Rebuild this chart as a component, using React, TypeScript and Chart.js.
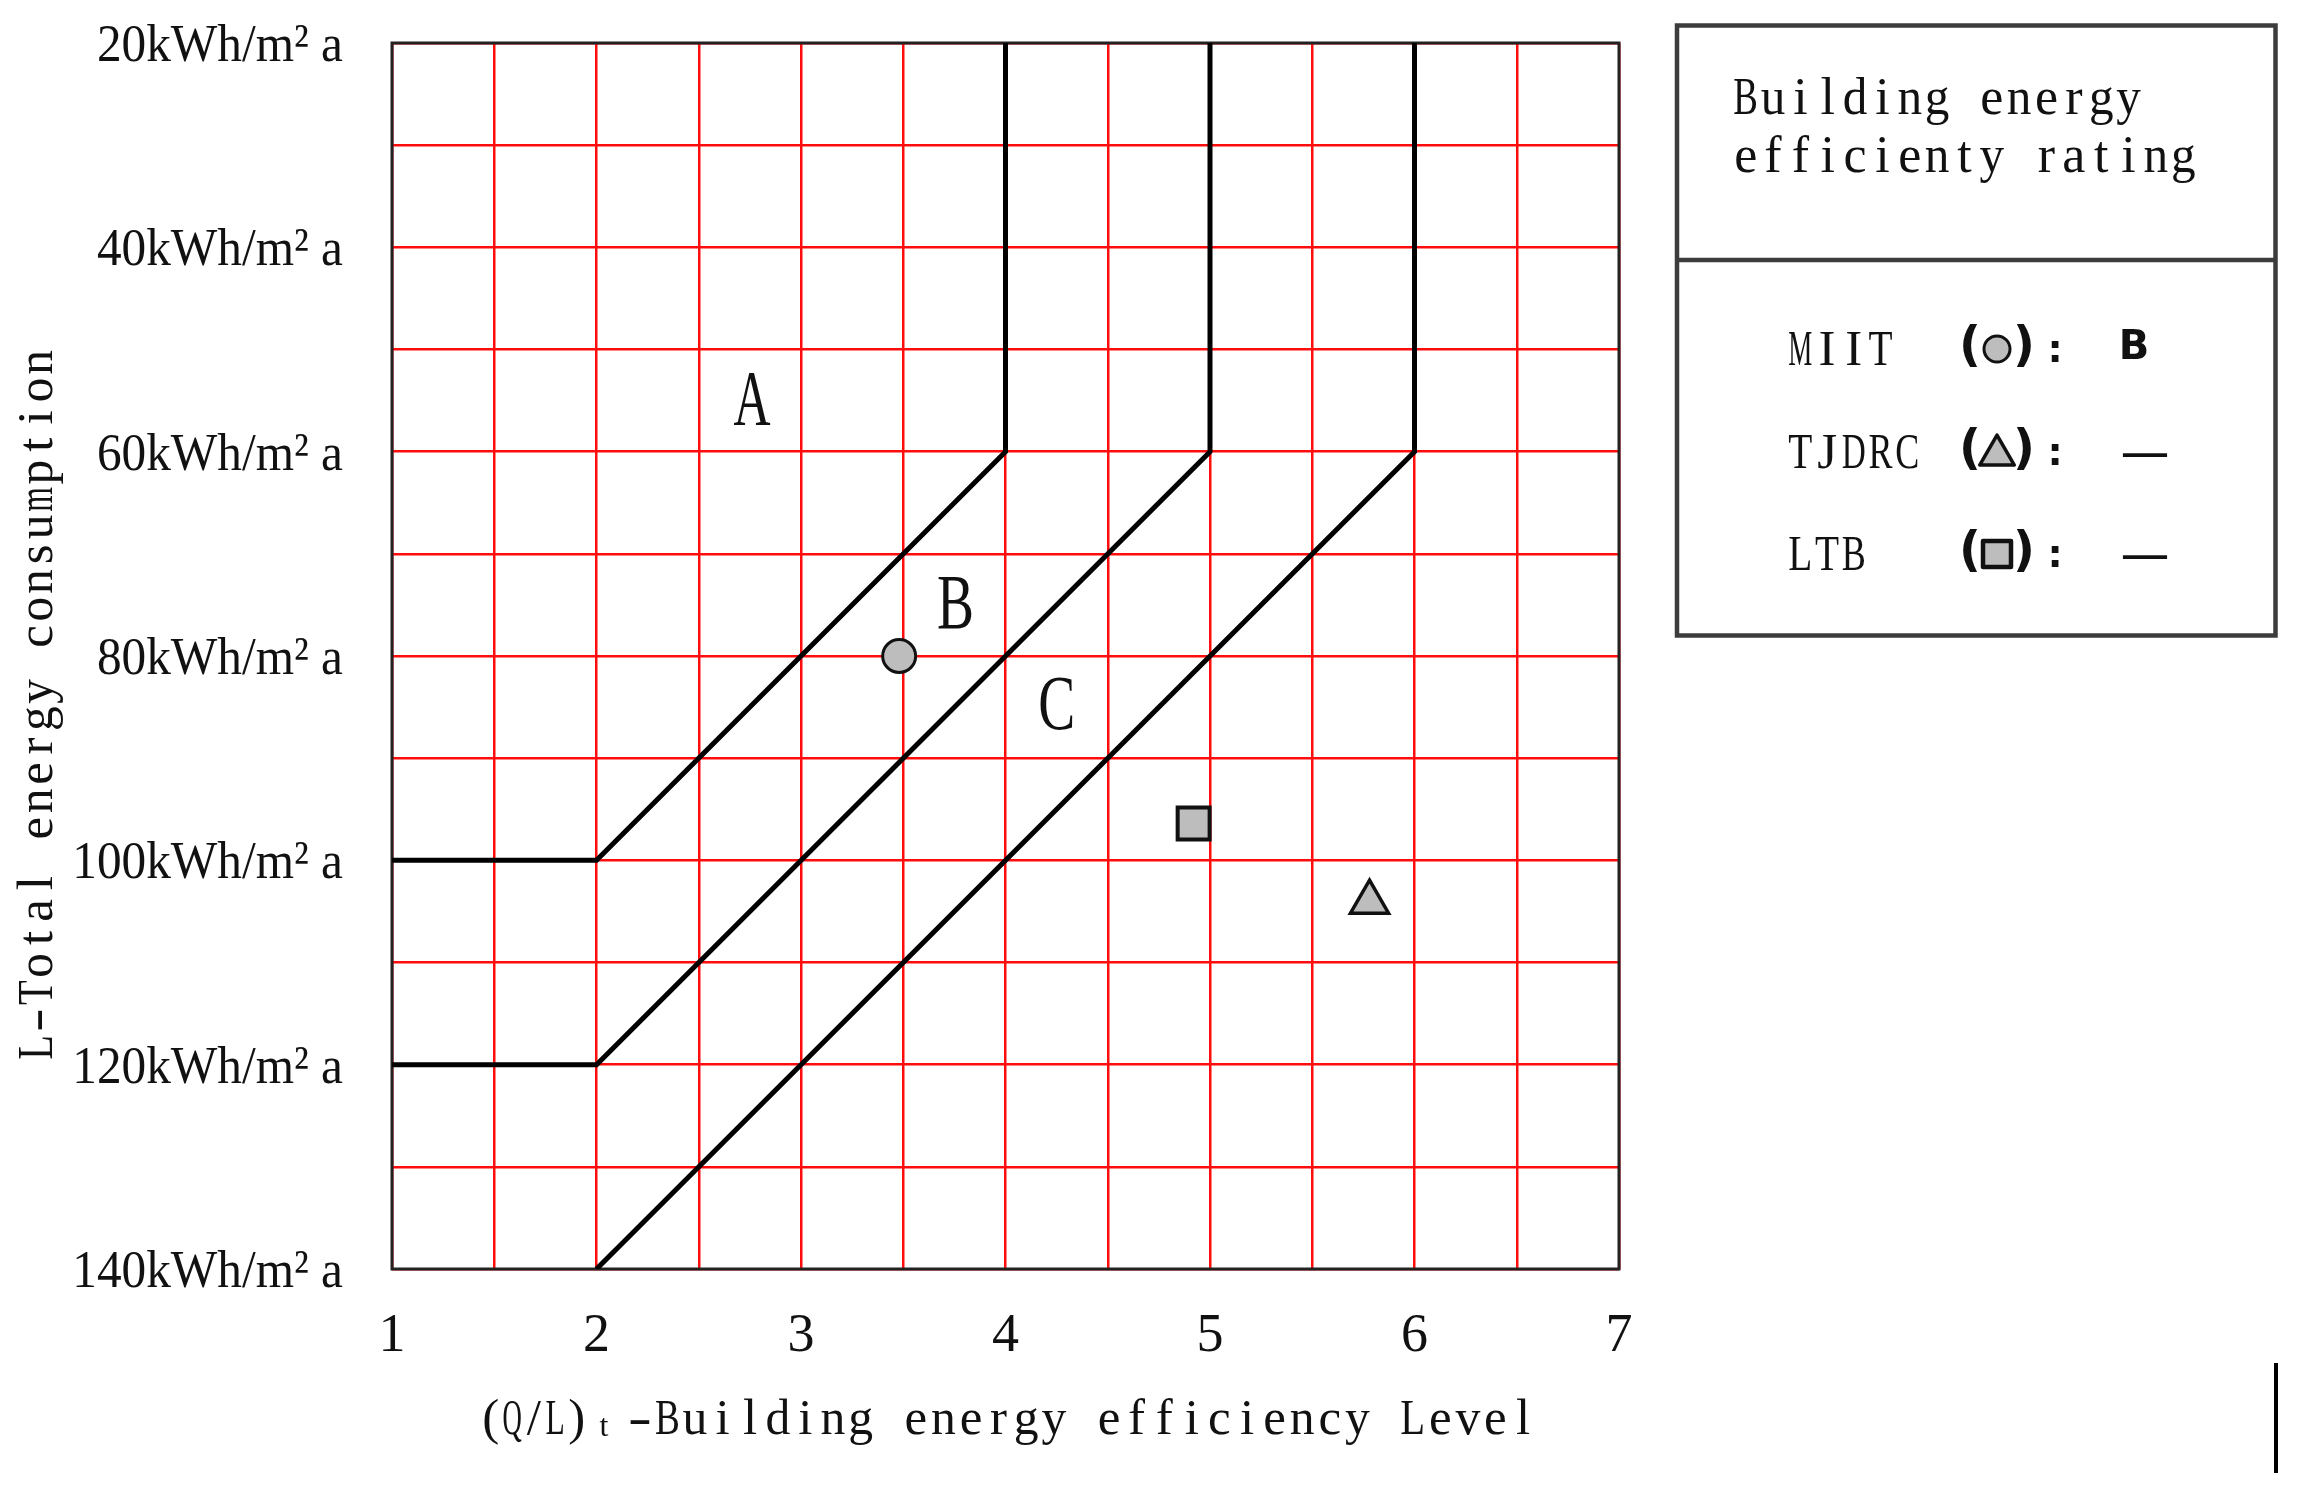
import React, { useEffect, useRef } from 'react';
import { Chart, registerables } from 'chart.js';

Chart.register(...registerables);

// ---- data ----
const xTickValues = [1, 2, 3, 4, 5, 6, 7];
const xTickLabels = ['1', '2', '3', '4', '5', '6', '7'];
const yTickValues = [20, 40, 60, 80, 100, 120, 140];
const yTickLabels = ['20kWh/m² a', '40kWh/m² a', '60kWh/m² a', '80kWh/m² a', '100kWh/m² a', '120kWh/m² a', '140kWh/m² a'];

const boundaryAX = [1, 2, 4, 4];
const boundaryAY = [100, 100, 60, 20];
const boundaryBX = [1, 2, 5, 5];
const boundaryBY = [120, 120, 60, 20];
const boundaryCX = [2, 6, 6];
const boundaryCY = [140, 60, 20];

const miitX = [3.48];
const miitY = [80];
const tjdrcX = [5.78];
const tjdrcY = [104.1];
const ltbX = [4.92];
const ltbY = [96.4];

const zoneLabels = ['A', 'B', 'C'];
const zoneX = [2.76, 3.755, 4.25];
const zoneY = [54.8, 74.8, 84.7];

const xTitleMain = '(Q/L)';
const xTitleSub = 't';
const xTitleRest = '-Building energy efficiency Level';
const yTitle = 'L-Total energy consumption';

const legendTitle = ['Building energy', 'efficienty rating'];
const legendNames = ['MIIT', 'TJDRC', 'LTB'];
const legendStyles = ['circle', 'triangle', 'rect'];
const legendRatings = ['B', '—', '—'];

// ---- helpers ----
const pts = (xs: number[], ys: number[]) => xs.map((x, i) => ({ x, y: ys[i] }));

function monoText(ctx: CanvasRenderingContext2D, text: string, x: number, y: number, adv: number, font: string, align: 'left' | 'right' | 'center', fill = '#111') {
  ctx.save();
  ctx.font = font;
  ctx.fillStyle = fill;
  ctx.textAlign = 'center';
  ctx.textBaseline = 'alphabetic';
  const chars = Array.from(text);
  const total = chars.length * adv;
  const start = align === 'left' ? x : align === 'right' ? x - total : x - total / 2;
  chars.forEach((ch, i) => {
    const cx = start + adv * (i + 0.5);
    const w = ctx.measureText(ch).width;
    let sx = 1;
    const maxW = adv * 0.9;
    if (w > maxW) sx = maxW / w;
    if (ch === '-') sx = 1.4;
    ctx.save();
    ctx.translate(cx, y);
    ctx.scale(sx, 1);
    ctx.fillText(ch, 0, 0);
    ctx.restore();
  });
  ctx.restore();
  return start + total;
}

function drawMarker(ctx: CanvasRenderingContext2D, style: string, x: number, y: number) {
  ctx.save();
  ctx.fillStyle = '#bdbdbd';
  ctx.strokeStyle = '#111';
  ctx.lineJoin = 'round';
  ctx.beginPath();
  if (style === 'circle') {
    ctx.lineWidth = 3;
    ctx.arc(x, y, 13, 0, Math.PI * 2);
  } else if (style === 'triangle') {
    ctx.lineWidth = 3.5;
    const r = 20;
    for (let k = 0; k < 3; k++) {
      const a = (k * 2 * Math.PI) / 3;
      const px = x + Math.sin(a) * r;
      const py = y + 3 - Math.cos(a) * r;
      if (k === 0) ctx.moveTo(px, py); else ctx.lineTo(px, py);
    }
    ctx.closePath();
  } else {
    ctx.lineWidth = 4.5;
    ctx.rect(x - 14, y - 13, 28, 26);
  }
  ctx.fill();
  ctx.stroke();
  ctx.restore();
}

const overlay = {
  id: 'overlay',
  beforeDatasetsDraw(chart: any) {
    const { ctx, chartArea: a } = chart;
    ctx.save();
    ctx.strokeStyle = '#222';
    ctx.lineWidth = 3;
    ctx.strokeRect(a.left, a.top, a.right - a.left, a.bottom - a.top);
    ctx.restore();
  },
  afterDatasetsDraw(chart: any) {
    const { ctx } = chart;
    const xs = chart.scales.x;
    const ys = chart.scales.y;
    zoneLabels.forEach((lab, i) => {
      const px = xs.getPixelForValue(zoneX[i]);
      const py = ys.getPixelForValue(zoneY[i]);
      ctx.save();
      ctx.font = '78px "Liberation Serif"';
      ctx.fillStyle = '#111';
      ctx.textAlign = 'center';
      ctx.textBaseline = 'alphabetic';
      const w = ctx.measureText(lab).width;
      ctx.translate(px, py + 25);
      ctx.scale(Math.min(1, 37 / w), 1);
      ctx.fillText(lab, 0, 0);
      ctx.restore();
    });
  },
  afterDraw(chart: any) {
    const { ctx } = chart;
    const xs = chart.scales.x;
    const ys = chart.scales.y;
    // tick labels
    ctx.save();
    ctx.fillStyle = '#111';
    ctx.font = '53px "Liberation Serif"';
    ctx.textAlign = 'right';
    ctx.textBaseline = 'alphabetic';
    yTickValues.forEach((v, i) => {
      ctx.save();
      ctx.translate(343, ys.getPixelForValue(v) + 18);
      ctx.scale(0.93, 1);
      ctx.fillText(yTickLabels[i], 0, 0);
      ctx.restore();
    });
    ctx.font = '54px "Liberation Serif"';
    ctx.textAlign = 'center';
    xTickValues.forEach((v, i) => {
      ctx.fillText(xTickLabels[i], xs.getPixelForValue(v), 1351);
    });
    ctx.restore();

    // x title
    const tFont = '51px "Liberation Serif"';
    monoText(ctx, xTitleMain, 480, 1434, 21.5, tFont, 'left');
    ctx.save();
    ctx.font = '32px "Liberation Serif"';
    ctx.fillStyle = '#111';
    ctx.textAlign = 'center';
    ctx.fillText(xTitleSub, 604, 1436);
    ctx.restore();
    monoText(ctx, xTitleRest, 626, 1434, 27.6, tFont, 'left');

    // y title
    ctx.save();
    ctx.translate(52, 705);
    ctx.rotate(-Math.PI / 2);
    monoText(ctx, yTitle, 0, 0, 27.4, tFont, 'center');
    ctx.restore();

    // legend box
    ctx.save();
    ctx.strokeStyle = '#3c3c3c';
    ctx.lineWidth = 4.5;
    ctx.strokeRect(1677, 25.5, 598.5, 610);
    ctx.beginPath();
    ctx.moveTo(1677, 260);
    ctx.lineTo(2275.5, 260);
    ctx.stroke();
    ctx.restore();

    monoText(ctx, legendTitle[0], 1732, 114, 27.35, '52px "Liberation Serif"', 'left');
    monoText(ctx, legendTitle[1], 1732, 172, 27.35, '52px "Liberation Serif"', 'left');

    const baselines = [365, 468, 570];
    legendNames.forEach((name, i) => {
      const bl = baselines[i];
      const cy = bl - 16;
      monoText(ctx, name, 1787, bl, 26.7, '51px "Liberation Serif"', 'left');
      ctx.save();
      ctx.fillStyle = '#111';
      ctx.textAlign = 'center';
      ctx.textBaseline = 'middle';
      ctx.font = 'bold 48px "DejaVu Sans"';
      ctx.fillText('(', 1970, cy);
      ctx.fillText(')', 2024, cy);
      ctx.font = 'bold 38px "DejaVu Sans"';
      ctx.fillText(':', 2055, cy + 3);
      if (legendRatings[i] === '—') {
        ctx.font = '48px "Noto Sans"';
        ctx.fillText(legendRatings[i], 2145, cy + 2);
      } else {
        ctx.font = 'bold 40px "DejaVu Sans"';
        ctx.fillText(legendRatings[i], 2134, cy);
      }
      ctx.restore();
      drawMarker(ctx, legendStyles[i], 1997, cy);
    });

    // stray vertical rule at bottom right
    ctx.save();
    ctx.fillStyle = '#000';
    ctx.fillRect(2274, 1363, 4, 110);
    ctx.restore();
  },
};

export default function App() {
  const ref = useRef<HTMLCanvasElement | null>(null);
  useEffect(() => {
    if (!ref.current) return;
    const gridColor = '#ff0d0d';
    const chart = new Chart(ref.current, {
      type: 'scatter',
      data: {
        datasets: [
          {
            label: 'MIIT',
            data: pts(miitX, miitY),
            pointStyle: 'circle',
            pointRadius: 16.5,
            pointBackgroundColor: '#bdbdbd',
            pointBorderColor: '#111',
            pointBorderWidth: 3,
            showLine: false,
          },
          {
            label: 'TJDRC',
            data: pts(tjdrcX, tjdrcY),
            pointStyle: 'triangle',
            pointRadius: 22,
            pointBackgroundColor: '#bdbdbd',
            pointBorderColor: '#111',
            pointBorderWidth: 3.5,
            showLine: false,
          },
          {
            label: 'LTB',
            data: pts(ltbX, ltbY),
            pointStyle: 'rect',
            pointRadius: 22.6,
            pointBackgroundColor: '#bdbdbd',
            pointBorderColor: '#111',
            pointBorderWidth: 4,
            showLine: false,
          },
          {
            label: 'A/B',
            data: pts(boundaryAX, boundaryAY),
            showLine: true,
            borderColor: '#000',
            borderWidth: 5,
            pointRadius: 0,
            tension: 0,
          },
          {
            label: 'B/C',
            data: pts(boundaryBX, boundaryBY),
            showLine: true,
            borderColor: '#000',
            borderWidth: 5,
            pointRadius: 0,
            tension: 0,
          },
          {
            label: 'C/D',
            data: pts(boundaryCX, boundaryCY),
            showLine: true,
            borderColor: '#000',
            borderWidth: 5,
            pointRadius: 0,
            tension: 0,
          },
        ],
      },
      options: {
        responsive: false,
        animation: false,
        devicePixelRatio: 1,
        events: [],
        layout: { padding: { left: 392, top: 43, right: 686, bottom: 219 } },
        plugins: { legend: { display: false }, tooltip: { enabled: false } },
        scales: {
          x: {
            type: 'linear',
            min: 1,
            max: 7,
            ticks: { display: false, stepSize: 0.5, maxTicksLimit: 30 },
            grid: { color: gridColor, lineWidth: 2.5, drawTicks: false },
            border: { display: false },
          },
          y: {
            type: 'linear',
            reverse: true,
            min: 20,
            max: 140,
            ticks: { display: false, stepSize: 10, maxTicksLimit: 30 },
            grid: { color: gridColor, lineWidth: 2.5, drawTicks: false },
            border: { display: false },
          },
        },
      },
      plugins: [overlay],
    } as any);
    return () => chart.destroy();
  }, []);
  return (
    <div style={{ position: 'fixed', left: 0, top: 0, width: 2305, height: 1488, background: '#fff' }}>
      <canvas ref={ref} width={2305} height={1488} style={{ display: 'block', width: 2305, height: 1488 }} />
    </div>
  );
}
